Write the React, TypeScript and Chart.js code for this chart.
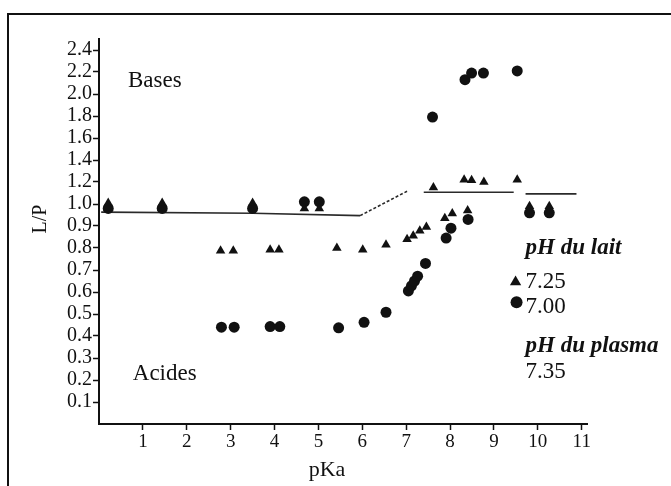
import React, { useEffect, useRef } from 'react';
import { Chart, registerables, LinearScale } from 'chart.js';

// Milk / plasma concentration ratio versus pKa, milk at pH 7.25 (triangles)
const pKaLait725 = [
  0.21, 1.44, 3.5, 2.77, 3.06, 3.9, 4.1, 4.68, 5.02, 5.42, 6.01, 6.54,
  7.02, 7.16, 7.31, 7.46, 7.88, 8.05, 8.4, 7.62, 8.32, 8.49, 8.77, 9.53,
  9.81, 10.26,
];
const ratioLait725 = [
  1.01, 1.01, 1.01, 0.787, 0.787, 0.792, 0.792, 0.98, 0.98, 0.8, 0.792, 0.815,
  0.84, 0.856, 0.878, 0.895, 0.935, 0.957, 0.97, 1.15, 1.22, 1.215, 1.2, 1.22,
  0.99, 0.99,
];

// Same compounds, milk at pH 7.00 (circles)
const pKaLait700 = [
  0.21, 1.44, 3.5, 2.79, 3.08, 3.9, 4.12, 4.68, 5.02, 5.46, 6.04, 6.54,
  7.05, 7.12, 7.19, 7.26, 7.44, 7.91, 8.02, 8.41, 7.6, 8.34, 8.49, 8.76,
  9.53, 9.81, 10.26,
];
const ratioLait700 = [
  0.98, 0.98, 0.98, 0.44, 0.44, 0.443, 0.443, 1.02, 1.02, 0.437, 0.462, 0.508,
  0.605, 0.628, 0.65, 0.672, 0.73, 0.845, 0.89, 0.93, 1.79, 2.13, 2.19, 2.19,
  2.21, 0.96, 0.96,
];

// Theoretical curve for plasma pH 7.35 (null = pen lifted)
const curvePKa = [0.05, 3.5, 5.95, 7.02, 7.2, 7.4, 9.45, 9.6, 9.72, 10.88];
const curveRatio = [0.963, 0.958, 0.947, 1.116, null, 1.107, 1.107, null, 1.092, 1.092];

const xTicks = [1, 2, 3, 4, 5, 6, 7, 8, 9, 10, 11];
const yTicks = [
  0.1, 0.2, 0.3, 0.4, 0.5, 0.6, 0.7, 0.8, 0.9, 1.0,
  1.2, 1.4, 1.6, 1.8, 2.0, 2.2, 2.4,
];

const INK = '#111';
const SERIF = '"Liberation Serif", "Times New Roman", serif';

// Above 1.0 the ratio axis runs at half scale (0.2 per step instead of 0.1)
const BREAK_AT = 1;
const UPPER_COMPRESSION = 0.5;
const squash = (v: number) =>
  v <= BREAK_AT ? v : BREAK_AT + (v - BREAK_AT) * UPPER_COMPRESSION;
const unsquash = (t: number) =>
  t <= BREAK_AT ? t : BREAK_AT + (t - BREAK_AT) / UPPER_COMPRESSION;

class BrokenLinearScale extends LinearScale {
  static id = 'brokenLinear';
  static defaults = LinearScale.defaults;

  configure() {
    super.configure();
    const self = this as any;
    self._startValue = squash(self.min);
    self._endValue = squash(self.max);
    self._valueRange = self._endValue - self._startValue;
  }

  getPixelForValue(value: number) {
    if (value === null || value === undefined || isNaN(value)) return NaN;
    const self = this as any;
    return this.getPixelForDecimal((squash(value) - self._startValue) / self._valueRange);
  }

  getValueForPixel(pixel: number) {
    const self = this as any;
    return unsquash(self._startValue + this.getDecimalForPixel(pixel) * self._valueRange);
  }
}

Chart.register(...registerables, BrokenLinearScale);

const toPoints = (xs: number[], ys: (number | null)[]) =>
  xs.map((x, i) => ({ x, y: ys[i] }));

function drawTriangle(ctx: CanvasRenderingContext2D, cx: number, cy: number, r: number) {
  ctx.beginPath();
  ctx.moveTo(cx, cy - r);
  ctx.lineTo(cx + r * 0.87, cy + r * 0.5);
  ctx.lineTo(cx - r * 0.87, cy + r * 0.5);
  ctx.closePath();
  ctx.fill();
}

const annotationPlugin = {
  id: 'annotationTexts',
  afterDraw(chart: any) {
    const { ctx, chartArea, scales } = chart;
    const x = scales.x;
    const y = scales.y;
    ctx.save();
    ctx.fillStyle = INK;
    ctx.textBaseline = 'middle';

    // Axis titles
    ctx.textAlign = 'center';
    ctx.font = `22px ${SERIF}`;
    ctx.fillText('pKa', chartArea.left + 228, chartArea.bottom + 46);
    ctx.save();
    ctx.translate(41, 219);
    ctx.rotate(-Math.PI / 2);
    ctx.font = `20px ${SERIF}`;
    ctx.fillText('L/P', 0, 0);
    ctx.restore();

    // Region labels
    ctx.textAlign = 'left';
    ctx.font = `23px ${SERIF}`;
    ctx.fillText('Bases', x.getPixelForValue(0.66), y.getPixelForValue(2.115));
    ctx.fillText('Acides', x.getPixelForValue(0.77), y.getPixelForValue(0.228));

    // Key
    const keyX = x.getPixelForValue(9.72);
    ctx.font = `italic bold 23px ${SERIF}`;
    ctx.fillText('pH du lait', keyX, y.getPixelForValue(0.801));
    ctx.fillText('pH du plasma', keyX, y.getPixelForValue(0.355));
    ctx.font = `23px ${SERIF}`;
    ctx.fillText('7.25', keyX, y.getPixelForValue(0.647));
    ctx.fillText('7.00', keyX, y.getPixelForValue(0.533));
    ctx.fillText('7.35', keyX, y.getPixelForValue(0.237));
    drawTriangle(ctx, keyX - 10, y.getPixelForValue(0.645), 6.5);
    ctx.beginPath();
    ctx.arc(keyX - 9, y.getPixelForValue(0.553), 6, 0, Math.PI * 2);
    ctx.fill();
    ctx.restore();
  },
};

export default function App() {
  const canvasRef = useRef<HTMLCanvasElement | null>(null);

  useEffect(() => {
    if (!canvasRef.current) return;
    const axisGrid = {
      display: true,
      drawOnChartArea: false,
      drawTicks: true,
      tickLength: 6,
      tickColor: INK,
      tickWidth: 1.5,
      color: INK,
    };
    const chart = new Chart(canvasRef.current, {
      type: 'scatter',
      data: {
        datasets: [
          {
            label: 'Plasma pH 7.35',
            data: toPoints(curvePKa, curveRatio),
            showLine: true,
            spanGaps: false,
            borderColor: '#2a2a2a',
            borderWidth: 1.6,
            pointRadius: 0,
            segment: {
              borderDash: (ctx: any) => (ctx.p0DataIndex === 2 ? [3, 2] : undefined),
            },
            order: 3,
          },
          {
            label: 'pH du lait 7.25',
            data: toPoints(pKaLait725, ratioLait725),
            pointStyle: 'triangle',
            pointRadius: 5.5,
            backgroundColor: INK,
            borderColor: INK,
            borderWidth: 0,
            order: 1,
          },
          {
            label: 'pH du lait 7.00',
            data: toPoints(pKaLait700, ratioLait700),
            pointStyle: 'circle',
            pointRadius: 5.5,
            backgroundColor: INK,
            borderColor: INK,
            borderWidth: 0,
            order: 2,
          },
        ],
      },
      options: {
        animation: false,
        responsive: false,
        devicePixelRatio: 1,
        layout: { padding: { left: 0, top: 39, right: 84, bottom: 0 } },
        plugins: {
          legend: { display: false },
          tooltip: { enabled: false },
          title: { display: false },
        },
        scales: {
          x: {
            type: 'linear',
            min: 0,
            max: 11.12,
            bounds: 'data',
            grid: axisGrid,
            border: { display: true, color: INK, width: 2 },
            afterBuildTicks: (scale: any) => {
              scale.ticks = xTicks.map((value) => ({ value }));
            },
            afterFit: (scale: any) => {
              scale.height = 62;
            },
            ticks: {
              color: INK,
              font: { family: SERIF, size: 19 },
              padding: 1,
              maxRotation: 0,
              autoSkip: false,
              callback: (v: any) => String(v),
            },
          },
          y: {
            type: 'brokenLinear',
            min: 0,
            max: 2.5,
            bounds: 'data',
            grid: axisGrid,
            border: { display: true, color: INK, width: 2 },
            afterBuildTicks: (scale: any) => {
              scale.ticks = yTicks.map((value) => ({ value }));
            },
            afterFit: (scale: any) => {
              scale.width = 99;
            },
            ticks: {
              color: INK,
              font: { family: SERIF, size: 20 },
              padding: 1,
              autoSkip: false,
              callback: (v: any) => Number(v).toFixed(1),
            },
          },
        } as any,
      },
      plugins: [annotationPlugin],
    } as any);
    return () => chart.destroy();
  }, []);

  return (
    <div
      style={{
        position: 'absolute',
        left: 0,
        top: 0,
        width: 671,
        height: 486,
        background: '#fff',
        overflow: 'hidden',
      }}
    >
      <div
        style={{
          position: 'absolute',
          left: 7,
          top: 13,
          width: 700,
          height: 500,
          borderLeft: `2px solid ${INK}`,
          borderTop: `2px solid ${INK}`,
        }}
      />
      <canvas
        ref={canvasRef}
        width={671}
        height={486}
        style={{ position: 'absolute', left: 0, top: 0, display: 'block' }}
      />
    </div>
  );
}
